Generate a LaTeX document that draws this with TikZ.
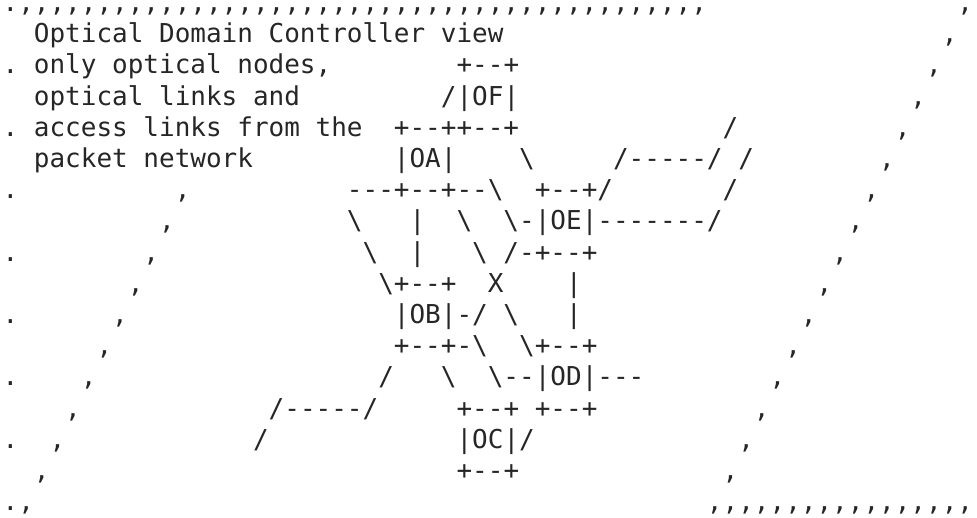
\documentclass[tikz,border=0pt]{standalone}
\usepackage{fontspec}
\setmonofont{DejaVu Sans Mono}
\definecolor{ink}{HTML}{262626}
\newcommand\bs{\textbackslash}
\newcommand\gap[1]{\hspace*{#1\fontcharwd\font`M}}
\begin{document}
\begin{tikzpicture}[x=1pt,y=1pt,
  asciiline/.style={anchor=base west, inner sep=0pt, outer sep=0pt,
    font=\ttfamily\fontsize{26}{31.2}\selectfont, text=ink}]
\useasboundingbox (0,0) rectangle (977,-518);
\def\lx{2.6}
\node[asciiline, text height=4pt] (l1)  at (\lx,-11.5) {.,,,,,,,,,,,,,,,,,,,,,,,,,,,,,,,,,,,,,,,,,,,,\gap{16},};
\node[asciiline] (l2)  at (\lx,-42.7) {\gap{2}Optical Domain Controller view\gap{28},};
\node[asciiline] (l3)  at (\lx,-73.9) {.\gap{1}only optical nodes,\gap{8}+--+\gap{26},};
\node[asciiline] (l4)  at (\lx,-105.1) {\gap{2}optical links and\gap{9}/|OF|\gap{25},};
\node[asciiline] (l5)  at (\lx,-136.3) {.\gap{1}access links from the\gap{2}+--++--+\gap{13}/\gap{10},};
\node[asciiline] (l6)  at (\lx,-167.5) {\gap{2}packet network\gap{9}|OA|\gap{4}\bs\gap{5}/-----/\gap{1}/\gap{8},};
\node[asciiline] (l7)  at (\lx,-198.7) {.\gap{10},\gap{10}---+--+--\bs\gap{2}+--+/\gap{7}/\gap{8},};
\node[asciiline] (l8)  at (\lx,-229.9) {\gap{10},\gap{11}\bs\gap{3}|\gap{2}\bs\gap{2}\bs-|OE|-------/\gap{8},};
\node[asciiline] (l9)  at (\lx,-261.1) {.\gap{8},\gap{13}\bs\gap{2}|\gap{3}\bs\gap{1}/-+--+\gap{15},};
\node[asciiline] (l10) at (\lx,-292.3) {\gap{8},\gap{15}\bs+--+\gap{2}X\gap{4}|\gap{15},};
\node[asciiline] (l11) at (\lx,-323.5) {.\gap{6},\gap{17}|OB|-/\gap{1}\bs\gap{3}|\gap{14},};
\node[asciiline] (l12) at (\lx,-354.7) {\gap{6},\gap{18}+--+-\bs\gap{2}\bs+--+\gap{12},};
\node[asciiline] (l13) at (\lx,-385.9) {.\gap{4},\gap{18}/\gap{3}\bs\gap{2}\bs--|OD|---\gap{8},};
\node[asciiline] (l14) at (\lx,-417.1) {\gap{4},\gap{12}/-----/\gap{5}+--+\gap{1}+--+\gap{10},};
\node[asciiline] (l15) at (\lx,-448.3) {.\gap{2},\gap{12}/\gap{12}|OC|/\gap{13},};
\node[asciiline] (l16) at (\lx,-479.5) {\gap{2},\gap{26}+--+\gap{13},};
\node[asciiline] (l17) at (\lx,-510.7) {.,\gap{43},,,,,,,,,,,,,,,,,};
\end{tikzpicture}
\end{document}
